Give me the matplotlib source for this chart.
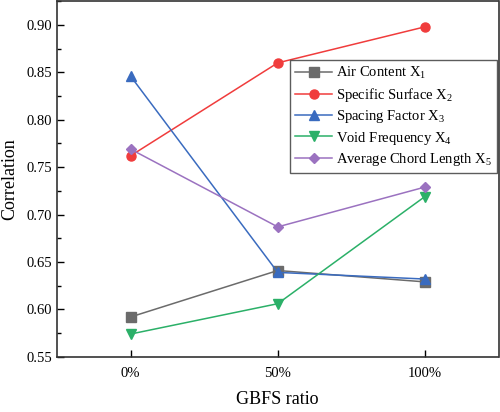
import matplotlib
matplotlib.use("Agg")
import matplotlib.pyplot as plt
from matplotlib.ticker import MultipleLocator

plt.rcParams['font.family'] = ['Liberation Serif', 'DejaVu Serif']
plt.rcParams['mathtext.fontset'] = 'custom'
plt.rcParams['mathtext.rm'] = 'Liberation Serif'
plt.rcParams['mathtext.it'] = 'Liberation Serif'

categories = ['0%', '50%', '100%']
air_content = [0.592, 0.641, 0.629]
specific_surface = [0.762, 0.860, 0.898]
spacing_factor = [0.846, 0.639, 0.632]
void_frequency = [0.574, 0.606, 0.719]
avg_chord_length = [0.769, 0.687, 0.729]

series = [
    (air_content, 'Air Content X$_\\mathregular{1}$', '#6b6b6b', 's'),
    (specific_surface, 'Specific Surface X$_\\mathregular{2}$', '#f03c3c', 'o'),
    (spacing_factor, 'Spacing Factor X$_\\mathregular{3}$', '#3a6bbf', '^'),
    (void_frequency, 'Void Frequency X$_\\mathregular{4}$', '#2bb068', 'v'),
    (avg_chord_length, 'Average Chord Length X$_\\mathregular{5}$', '#9b72c0', 'D'),
]

fig = plt.figure(figsize=(5.0, 4.12), dpi=100)
ax = fig.add_axes([0.114, 0.134, 0.883, 0.863])
x = list(range(len(categories)))
for vals, lab, col, mk in series:
    ax.plot(x, vals, color=col, marker=mk, markersize=6.5 if mk != 'D' else 5.5,
            linewidth=1.1, label=lab)

ax.set_xlim(-0.5, 2.5)
ax.set_ylim(0.55, 0.925)
ax.set_xticks(x)
ax.set_xticklabels(categories)
ax.yaxis.set_major_locator(MultipleLocator(0.05))
ax.yaxis.set_minor_locator(MultipleLocator(0.025))
ax.yaxis.set_major_formatter(matplotlib.ticker.FormatStrFormatter('%.2f'))
ax.tick_params(direction='in', which='major', length=5, width=1, labelsize=10.5)
ax.tick_params(direction='in', which='minor', length=3, width=1)
ax.tick_params(axis='x', pad=7)
for s in ax.spines.values():
    s.set_linewidth(1.2)
    s.set_color('#333333')
ax.set_xlabel('GBFS ratio', fontsize=13, labelpad=8)
ax.set_ylabel('Correlation', fontsize=13, labelpad=6)
leg = ax.legend(loc='upper right', bbox_to_anchor=(0.997, 0.834), borderaxespad=0,
                fontsize=10.5, frameon=True, fancybox=False, edgecolor='#333333',
                handlelength=2.5, borderpad=0.35, labelspacing=0.3, handletextpad=0.3)
leg.get_frame().set_linewidth(1.0)
fig.savefig('out.png', dpi=100)
